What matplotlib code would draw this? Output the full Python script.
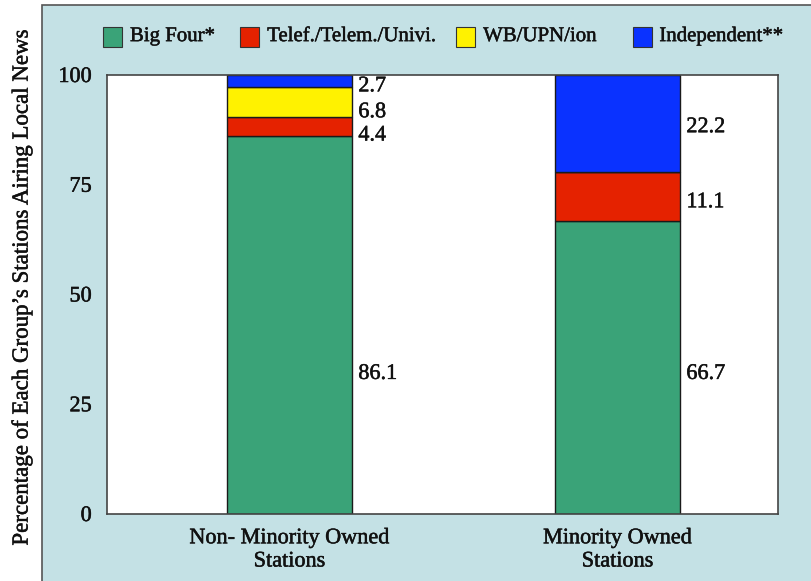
import matplotlib.pyplot as plt
import matplotlib.patheffects as pe
import numpy as np
from matplotlib.patches import Rectangle

plt.rcParams["font.family"] = ["Liberation Serif", "DejaVu Serif"]

groups = ["Non- Minority Owned\nStations", "Minority Owned\nStations"]
networks = ["Big Four*", "Telef./Telem./Univi.", "WB/UPN/ion", "Independent**"]
big_four = [86.1, 66.7]
telemundo = [4.4, 11.1]
wb_upn = [6.8, 0.0]
independent = [2.7, 22.2]

colors = ["#3aa378", "#e52200", "#fff200", "#0a32ff"]
panel_color = "#c4e1e5"
ink = "#111111"
heavy = [pe.withStroke(linewidth=0.35, foreground=ink)]

# label anchors (data units) so the thin segments don't collide
label_y = [
    [31.8, 86.1, 91.4, 97.3],
    [31.8, 70.9, None, 88.0],
]
# legend entry left edges (figure fraction)
legend_x = [0.127, 0.296, 0.562, 0.779]

fig = plt.figure(figsize=(8.12, 5.81), dpi=100)
panel = Rectangle((0.0517, -0.01), 1.0, 1.0014, transform=fig.transFigure,
                  facecolor=panel_color, edgecolor="#555555", linewidth=1.2,
                  zorder=-10)
fig.add_artist(panel)

ax = fig.add_axes([0.1318, 0.1153, 0.8262, 0.7556])
ax.set_facecolor("white")

x = np.arange(len(groups))
width = 0.38
series = [big_four, telemundo, wb_upn, independent]
bottom = np.zeros(len(groups))
for vals, color in zip(series, colors):
    vals = np.array(vals)
    ax.bar(x, vals, width, bottom=bottom, color=color, edgecolor="#1a1a1a",
           linewidth=1.0, zorder=2)
    bottom += vals

for i in range(len(groups)):
    for j, vals in enumerate(series):
        if vals[i] <= 0:
            continue
        ax.text(x[i] + width / 2 + 0.02, label_y[i][j], f"{vals[i]:.1f}",
                ha="left", va="center", fontsize=16, color=ink,
                path_effects=heavy)

ax.set_xlim(-0.556, 1.489)
ax.set_ylim(0, 100)
ax.set_yticks([0, 25, 50, 75, 100])
ax.set_xticks(x)
ax.set_xticklabels(groups, fontsize=16, linespacing=1.3)
ax.tick_params(axis="both", length=0, labelsize=16, colors=ink)
ax.tick_params(axis="y", pad=11)
ax.tick_params(axis="x", pad=11)
for lbl in ax.get_xticklabels() + ax.get_yticklabels():
    lbl.set_path_effects(heavy)
for side in ax.spines.values():
    side.set_color("#444444")
    side.set_linewidth(1.2)

ax.set_ylabel("Percentage of Each Group\u2019s Stations Airing Local News",
              fontsize=16.5, color=ink, path_effects=heavy)
ax.yaxis.set_label_coords(-0.111, 0.515)

# legend row drawn by hand so the uneven spacing holds
for lx, name, color in zip(legend_x, networks, colors):
    fig.add_artist(Rectangle((lx, 0.919), 0.0234, 0.0344,
                             transform=fig.transFigure, facecolor=color,
                             edgecolor="#333333", linewidth=0.8))
    fig.text(lx + 0.033, 0.937, name, fontsize=15, color=ink,
             ha="left", va="center", path_effects=heavy)

fig.savefig("out.png", dpi=100)
